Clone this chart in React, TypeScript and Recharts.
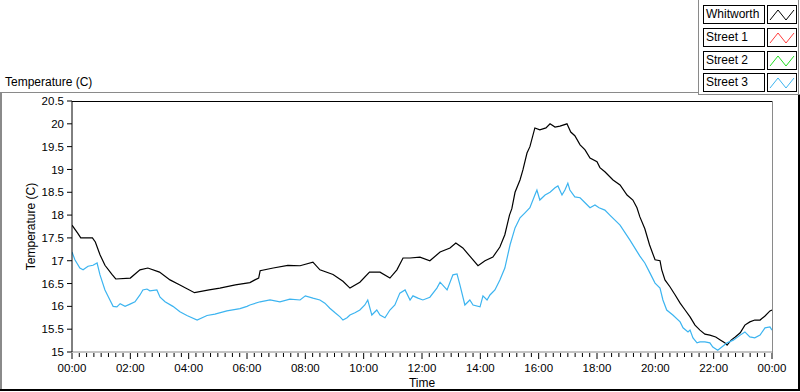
import React from 'react';
import { LineChart, Line, XAxis, YAxis } from 'recharts';

// Time in hours (0..24), temperature in °C
const whitworth: [number, number][] = [
  [0.0, 17.78], [0.2, 17.6], [0.3, 17.5], [0.7, 17.5], [0.8, 17.41], [0.96, 17.13], [1.13, 16.9],
  [1.37, 16.7], [1.5, 16.6], [2.0, 16.62], [2.33, 16.8], [2.6, 16.84], [3.0, 16.75], [3.36, 16.58],
  [3.7, 16.47], [4.2, 16.3], [4.7, 16.36], [5.07, 16.4], [5.6, 16.47], [6.1, 16.52], [6.27, 16.58],
  [6.4, 16.62], [6.45, 16.78], [6.9, 16.84], [7.4, 16.9], [7.82, 16.89], [8.26, 16.97], [8.5, 16.8],
  [8.95, 16.7], [9.29, 16.55], [9.53, 16.4], [9.87, 16.53], [10.2, 16.75], [10.56, 16.75], [10.9, 16.62],
  [11.14, 16.8], [11.35, 17.06], [11.59, 17.06], [11.93, 17.08], [12.27, 17.0], [12.62, 17.19],
  [12.96, 17.28], [13.16, 17.39], [13.4, 17.28], [13.64, 17.1], [13.92, 16.89], [14.16, 17.0],
  [14.43, 17.08], [14.67, 17.3], [14.84, 17.57], [15.0, 18.0], [15.08, 18.14], [15.19, 18.5],
  [15.36, 18.77], [15.46, 18.99], [15.6, 19.36], [15.7, 19.5], [15.87, 19.91], [16.04, 19.87],
  [16.25, 19.91], [16.39, 20.0], [16.56, 19.93], [16.73, 19.95], [16.97, 20.0], [17.1, 19.82],
  [17.24, 19.74], [17.42, 19.54], [17.59, 19.43], [17.76, 19.25], [18.0, 19.17], [18.1, 19.04],
  [18.27, 18.95], [18.55, 18.77], [18.79, 18.66], [19.03, 18.44], [19.23, 18.33], [19.37, 18.16],
  [19.47, 17.96], [19.64, 17.7], [19.8, 17.35], [19.99, 17.02], [20.16, 17.0], [20.22, 16.8],
  [20.33, 16.58], [20.5, 16.43], [20.68, 16.25], [20.85, 16.07], [21.02, 15.92], [21.19, 15.77],
  [21.36, 15.59], [21.53, 15.48], [21.7, 15.39], [21.87, 15.37], [22.07, 15.33], [22.24, 15.26],
  [22.39, 15.2], [22.46, 15.15], [22.6, 15.26], [22.74, 15.33], [22.91, 15.42], [23.07, 15.59],
  [23.24, 15.66], [23.41, 15.7], [23.59, 15.7], [23.76, 15.79], [23.93, 15.9], [24.0, 15.92],
];

const street3: [number, number][] = [
  [0.0, 17.19], [0.1, 17.02], [0.27, 16.84], [0.38, 16.8], [0.55, 16.88], [0.72, 16.9], [0.86, 16.95],
  [0.96, 16.69], [1.13, 16.36], [1.3, 16.14], [1.41, 16.0], [1.54, 15.99], [1.65, 16.06], [1.82, 16.0],
  [1.99, 16.05], [2.16, 16.1], [2.33, 16.25], [2.43, 16.36], [2.57, 16.38], [2.67, 16.34], [2.91, 16.36],
  [3.02, 16.2], [3.19, 16.1], [3.46, 16.0], [3.7, 15.88], [3.94, 15.8], [4.29, 15.7], [4.63, 15.8],
  [4.9, 15.83], [5.31, 15.9], [5.76, 15.95], [6.0, 16.0], [6.1, 16.03], [6.45, 16.1], [6.79, 16.14],
  [7.13, 16.1], [7.47, 16.16], [7.82, 16.14], [8.0, 16.23], [8.26, 16.18], [8.5, 16.14], [8.67, 16.07],
  [8.84, 15.96], [9.02, 15.86], [9.19, 15.77], [9.29, 15.7], [9.43, 15.75], [9.53, 15.81], [9.7, 15.86],
  [9.87, 15.92], [10.04, 16.03], [10.14, 16.14], [10.28, 15.81], [10.45, 15.92], [10.56, 15.81],
  [10.73, 15.75], [10.9, 15.92], [11.07, 16.03], [11.24, 16.29], [11.42, 16.36], [11.59, 16.14],
  [11.69, 16.23], [11.86, 16.18], [12.03, 16.14], [12.27, 16.2], [12.51, 16.4], [12.62, 16.53],
  [12.86, 16.36], [13.06, 16.69], [13.2, 16.71], [13.3, 16.47], [13.47, 16.03], [13.64, 16.14],
  [13.75, 16.03], [13.99, 15.99], [14.09, 16.23], [14.23, 16.14], [14.33, 16.25], [14.5, 16.36],
  [14.67, 16.58], [14.84, 16.84], [15.02, 17.35], [15.19, 17.72], [15.36, 17.94], [15.53, 18.05],
  [15.7, 18.16], [15.87, 18.44], [15.94, 18.55], [16.04, 18.33], [16.22, 18.44], [16.39, 18.5],
  [16.56, 18.6], [16.66, 18.64], [16.8, 18.44], [16.9, 18.55], [17.0, 18.7], [17.07, 18.55],
  [17.24, 18.4], [17.42, 18.38], [17.59, 18.27], [17.76, 18.16], [17.93, 18.22], [18.07, 18.16],
  [18.27, 18.11], [18.44, 18.0], [18.79, 17.78], [19.13, 17.45], [19.47, 17.1], [19.64, 16.95],
  [19.8, 16.75], [19.99, 16.51], [20.16, 16.4], [20.26, 16.14], [20.39, 15.92], [20.6, 15.81],
  [20.85, 15.66], [20.95, 15.53], [21.12, 15.44], [21.19, 15.48], [21.29, 15.31], [21.43, 15.2],
  [21.53, 15.22], [21.7, 15.22], [21.87, 15.2], [21.97, 15.11], [22.14, 15.04], [22.28, 15.11],
  [22.46, 15.2], [22.67, 15.26], [22.91, 15.37], [23.07, 15.44], [23.24, 15.33], [23.41, 15.31],
  [23.59, 15.37], [23.76, 15.53], [23.93, 15.55], [24.0, 15.48],
];

const SERIES_NAMES = ['Whitworth', 'Street 1', 'Street 2', 'Street 3'];
const SERIES_COLORS = ['#000000', '#ff3c3c', '#22dd22', '#3cb4f0'];

const Y_TICKS = [15, 15.5, 16, 16.5, 17, 17.5, 18, 18.5, 19, 19.5, 20, 20.5];
const X_LABELS = ['00:00', '02:00', '04:00', '06:00', '08:00', '10:00', '12:00', '14:00', '16:00', '18:00', '20:00', '22:00', '00:00'];
const X_TICKS = Array.from({ length: 97 }, (_, i) => i / 4);

const FONT = '"Liberation Sans", Arial, sans-serif';

const whitworthData = whitworth.map(([t, v]) => ({ t, v }));
const street3Data = street3.map(([t, v]) => ({ t, v }));

const XTick = (props: any) => {
  const { x, y, payload } = props;
  const v = payload.value as number;
  const major = Math.abs(v / 2 - Math.round(v / 2)) < 1e-6;
  const idx = Math.round(v / 2);
  return (
    <g>
      <line x1={x} x2={x} y1={y + 1} y2={y + (major ? 7 : 5)} stroke="#000" strokeWidth={1} />
      {major && (
        <text x={x} y={y + 20} textAnchor="middle" fontSize={11.5} fill="#000" fontFamily={FONT}>
          {X_LABELS[idx]}
        </text>
      )}
    </g>
  );
};

const YLabel = (props: any) => {
  const vb = props.viewBox || {};
  const cx = 31;
  const cy = (vb.y ?? 101) + (vb.height ?? 251) / 2;
  return (
    <text x={cx} y={cy} transform={`rotate(-90 ${cx} ${cy})`} textAnchor="middle" dominantBaseline="central" fontSize={12} fill="#000" fontFamily={FONT}>
      Temperature (C)
    </text>
  );
};

const XLabel = (props: any) => {
  const vb = props.viewBox || {};
  const cx = (vb.x ?? 72) + (vb.width ?? 700) / 2;
  const cy = (vb.y ?? 352) + 35;
  return (
    <text x={cx} y={cy} textAnchor="middle" fontSize={12} fill="#000" fontFamily={FONT}>
      Time
    </text>
  );
};

const Icon = ({ color }: { color: string }) => (
  <svg width={28} height={17} style={{ display: 'block' }}>
    <polyline points="2,14 10,4 18,14 26,4" fill="none" stroke={color} strokeWidth={1} />
  </svg>
);

const line = (style: React.CSSProperties) => <div style={{ position: 'absolute', ...style }} />;

export default function App() {
  return (
    <div style={{ position: 'absolute', left: 0, top: 0, width: 800, height: 392, background: '#fff', fontFamily: FONT, overflow: 'hidden' }}>
      {/* outer frame */}
      {line({ left: 0, top: 92, width: 698, height: 1, background: '#8a8a8a' })}
      {line({ left: 0, top: 92, width: 2, height: 298, background: '#8a8a8a' })}
      {line({ left: 0, top: 389, width: 800, height: 2, background: '#000' })}
      {line({ left: 798, top: 95, width: 2, height: 296, background: '#000' })}
      {/* legend panel */}
      {line({ left: 698, top: 0, width: 1, height: 95, background: '#8a8a8a' })}
      {line({ left: 698, top: 94, width: 102, height: 1, background: '#8a8a8a' })}
      {line({ left: 798, top: 0, width: 1, height: 95, background: '#8a8a8a' })}
      <div style={{ position: 'absolute', left: 5, top: 75, fontSize: 12, lineHeight: '14px', color: '#000' }}>Temperature (C)</div>
      {SERIES_NAMES.map((name, i) => (
        <React.Fragment key={name}>
          <div style={{ position: 'absolute', left: 703, top: 5 + i * 22.8, width: 58, height: 17, border: '1px solid #000', background: '#fff', fontSize: 12, lineHeight: '17px', paddingLeft: 2, boxSizing: 'content-box', whiteSpace: 'nowrap' }}>
            {name}
          </div>
          <div style={{ position: 'absolute', left: 767, top: 5 + i * 22.8, width: 28, height: 17, border: '1px solid #000', background: '#fff' }}>
            <Icon color={SERIES_COLORS[i]} />
          </div>
        </React.Fragment>
      ))}
      {/* plot top & right border */}
      {line({ left: 72, top: 101, width: 701, height: 1, background: '#000' })}
      {line({ left: 772, top: 101, width: 1, height: 252, background: '#8a8a8a' })}
      <div style={{ position: 'absolute', left: 0, top: 0 }}>
        <LineChart width={800} height={392} data={whitworthData} margin={{ top: 101, right: 28, bottom: 0, left: 0 }}>
          <XAxis
            dataKey="t"
            type="number"
            domain={[0, 24]}
            ticks={X_TICKS}
            interval={0}
            tickSize={0}
            tickMargin={0}
            tickLine={false}
            tick={<XTick />}
            height={40}
            axisLine={{ stroke: '#8a8a8a' }}
            allowDataOverflow
            label={<XLabel />}
          />
          <YAxis
            type="number"
            domain={[15, 20.5]}
            ticks={Y_TICKS}
            interval={0}
            width={72}
            tickSize={5}
            tickMargin={3}
            tick={{ fontSize: 11.5, fill: '#000', fontFamily: FONT }}
            tickLine={{ stroke: '#000' }}
            axisLine={{ stroke: '#000' }}
            allowDataOverflow
            label={<YLabel />}
          />
          <Line data={whitworthData} dataKey="v" name={SERIES_NAMES[0]} stroke={SERIES_COLORS[0]} strokeWidth={1.2} dot={false} isAnimationActive={false} type="linear" />
          <Line data={street3Data} dataKey="v" name={SERIES_NAMES[3]} stroke={SERIES_COLORS[3]} strokeWidth={1.2} dot={false} isAnimationActive={false} type="linear" />
        </LineChart>
      </div>
    </div>
  );
}
